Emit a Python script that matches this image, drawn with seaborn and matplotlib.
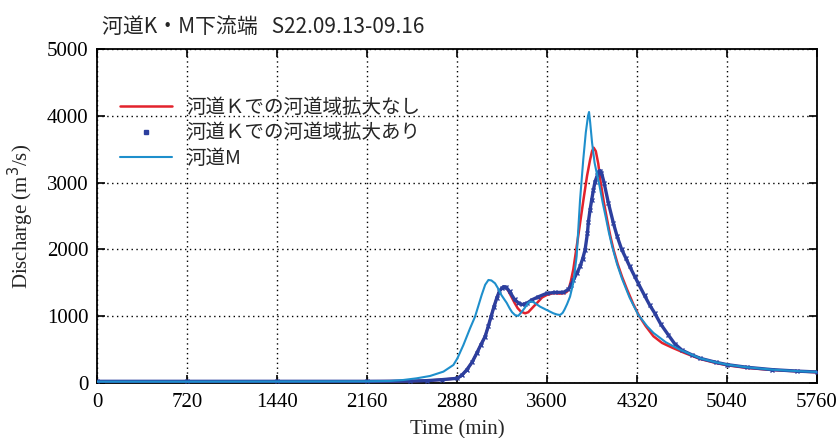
import matplotlib
matplotlib.use("Agg")
import matplotlib.pyplot as plt
from matplotlib.lines import Line2D
import numpy as np
import pandas as pd
import seaborn as sns

# 河道K（河道域拡大なし）
t_k_nashi = [0, 720, 1440, 2160, 2500, 2637, 2760, 2883, 2920, 2957, 3000, 3037, 3070,
             3104, 3130, 3152, 3175, 3197, 3218, 3237, 3254, 3270, 3290, 3315, 3340,
             3365, 3390, 3424, 3450, 3470, 3495, 3517, 3560, 3597, 3650, 3700, 3731,
             3755, 3771, 3790, 3810, 3837, 3864, 3891, 3920, 3944, 3960, 3973, 3990,
             4010, 4029, 4055, 4080, 4105, 4131, 4165, 4200, 4240, 4290, 4338, 4390,
             4451, 4520, 4600, 4700, 4824, 4950, 5040, 5200, 5400, 5600, 5760]
q_k_nashi = [25, 25, 25, 25, 28, 35, 50, 70, 120, 195, 310, 444, 570,
             693, 850, 993, 1140, 1267, 1370, 1417, 1440, 1430, 1380, 1290, 1200,
             1120, 1070, 1043, 1060, 1100, 1150, 1192, 1280, 1317, 1345, 1338, 1342,
             1360, 1392, 1520, 1700, 2041, 2390, 2740, 3100, 3338, 3470, 3522, 3470,
             3280, 3000, 2700, 2450, 2210, 2000, 1780, 1590, 1400, 1180, 1000, 850,
             700, 600, 530, 450, 360, 300, 265, 225, 195, 175, 160]

# 河道K（河道域拡大あり）
t_k_ari = [0, 720, 1440, 2160, 2500, 2637, 2760, 2883, 2920, 2957, 3000, 3037, 3070,
           3104, 3130, 3152, 3175, 3197, 3218, 3237, 3254, 3275, 3300, 3340, 3370,
           3397, 3420, 3440, 3477, 3530, 3597, 3660, 3731, 3771, 3790, 3811, 3840,
           3864, 3885, 3904, 3923, 3931, 3944, 3957, 3971, 3984, 4003, 4015, 4024,
           4035, 4056, 4090, 4131, 4160, 4197, 4230, 4260, 4300, 4330, 4380, 4420,
           4460, 4510, 4570, 4620, 4680, 4760, 4824, 4950, 5040, 5200, 5400, 5600,
           5760]
q_k_ari = [25, 25, 25, 25, 28, 35, 50, 70, 120, 195, 310, 444, 570,
           693, 850, 993, 1140, 1267, 1370, 1417, 1442, 1430, 1370, 1250, 1200,
           1175, 1180, 1195, 1243, 1290, 1342, 1355, 1357, 1400, 1460, 1542, 1650,
           1745, 1860, 1991, 2240, 2415, 2590, 2740, 2890, 3014, 3114, 3165, 3180,
           3150, 3000, 2700, 2391, 2200, 2000, 1870, 1750, 1600, 1490, 1310, 1170,
           1050, 880, 720, 590, 490, 420, 370, 310, 275, 235, 200, 178,
           165]

# 河道M
t_m = [0, 720, 1440, 2160, 2344, 2450, 2557, 2664, 2771, 2851, 2883, 2931, 2984,
       3024, 3077, 3105, 3131, 3155, 3184, 3210, 3230, 3255, 3277, 3300, 3320,
       3345, 3370, 3395, 3420, 3445, 3464, 3485, 3500, 3544, 3600, 3651, 3680,
       3704, 3725, 3740, 3760, 3784, 3810, 3837, 3864, 3890, 3910, 3928, 3936,
       3945, 3960, 3980, 4000, 4020, 4045, 4070, 4095, 4120, 4160, 4200, 4260,
       4330, 4400, 4451, 4550, 4650, 4824, 4950, 5040, 5200, 5400, 5600, 5760]
q_m = [20, 20, 22, 25, 30, 45, 70, 105, 170, 270, 370, 569, 818,
       993, 1317, 1470, 1542, 1535, 1492, 1410, 1330, 1260, 1200, 1120, 1060,
       1015, 1005, 1060, 1120, 1190, 1218, 1215, 1200, 1143, 1090, 1043, 1025,
       1018, 1050, 1100, 1180, 1293, 1500, 1900, 2740, 3350, 3750, 4000, 4057,
       3900, 3600, 3300, 3120, 2950, 2700, 2480, 2250, 2050, 1780, 1560, 1280,
       1020, 850, 750, 610, 510, 370, 310, 275, 235, 200, 178, 165]

x_ticks = [0, 720, 1440, 2160, 2880, 3600, 4320, 5040, 5760]
y_ticks = [0, 1000, 2000, 3000, 4000, 5000]

labels = ["河道Ｋでの河道域拡大なし", "河道Ｋでの河道域拡大あり", "河道M"]
title = "河道K・M下流端   S22.09.13-09.16"

RED = "#e3222c"
NAVY = "#2c3f9e"
CYAN = "#1e8fcc"

sns.set_theme(style="ticks")
plt.rcParams["font.family"] = ["Liberation Serif", "DejaVu Serif"]
jp_font = ["Noto Sans CJK JP", "DejaVu Sans"]

df_a = pd.DataFrame({"t": t_k_nashi, "q": q_k_nashi})
df_b = pd.DataFrame({"t": t_k_ari, "q": q_k_ari})
df_m = pd.DataFrame({"t": t_m, "q": q_m})

fig = plt.figure(figsize=(8.38, 4.38), dpi=100)
ax = fig.add_axes([0.1158, 0.1256, 0.8592, 0.7626])

sns.lineplot(data=df_a, x="t", y="q", ax=ax, color=RED, lw=1.8, zorder=3)
sns.lineplot(data=df_b, x="t", y="q", ax=ax, color=NAVY, lw=2.4, marker="x",
             markersize=3.5, markeredgewidth=1.0, markeredgecolor=NAVY, zorder=4)
sns.lineplot(data=df_m, x="t", y="q", ax=ax, color=CYAN, lw=1.5, zorder=5)

ax.set_xlim(0, 5760)
ax.set_ylim(0, 5000)
ax.set_xticks(x_ticks)
ax.set_yticks(y_ticks)
ax.tick_params(axis="both", direction="in", length=6, width=1.2, labelsize=15,
               top=True, right=True, colors="black")
ax.tick_params(axis="x", pad=7)
ax.tick_params(axis="y", pad=6)
ax.grid(True, color="black", linestyle=(0, (1, 2.5)), lw=1.0)
for s in ax.spines.values():
    s.set_color("black")
    s.set_linewidth(1.3)

ax.set_xlabel("Time (min)", fontsize=15, labelpad=6)
ax.set_ylabel("Discharge (m$^3$/s)", fontsize=15, labelpad=8)

handles = [
    Line2D([], [], color=RED, lw=1.8),
    Line2D([], [], ls="none", marker="s", markersize=2.5, color=NAVY),
    Line2D([], [], color=CYAN, lw=1.5),
]
ax.legend(handles, labels, loc="upper left", bbox_to_anchor=(0.007, 0.91),
          frameon=False, prop={"family": jp_font, "size": 14},
          handlelength=2.7, handletextpad=0.75, labelspacing=0.25,
          borderaxespad=0.5)

fig.text(0.122, 0.938, title, family=jp_font, fontsize=15, va="center", ha="left")

fig.savefig("out.png", dpi=100)
